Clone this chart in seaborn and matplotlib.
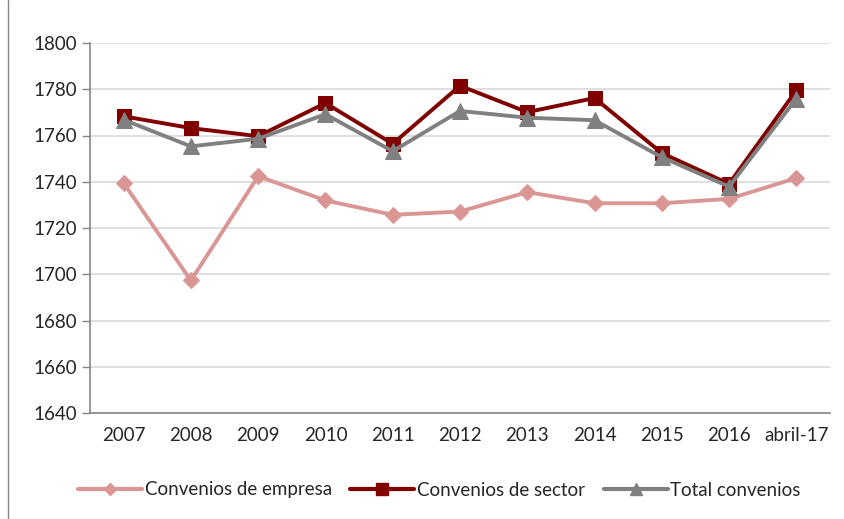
import numpy as np
import pandas as pd
import seaborn as sns
import matplotlib.pyplot as plt
from matplotlib.lines import Line2D

periods = ['2007', '2008', '2009', '2010', '2011', '2012', '2013', '2014', '2015', '2016', 'abril-17']
empresa = [1739.4, 1697.3, 1742.4, 1731.9, 1725.7, 1727.1, 1735.5, 1730.7, 1730.7, 1732.6, 1741.6]
sector = [1768.3, 1763.2, 1759.7, 1774.0, 1756.4, 1781.5, 1770.1, 1776.2, 1752.4, 1739.1, 1779.5]
total = [1766.8, 1755.3, 1758.6, 1769.2, 1753.2, 1770.6, 1767.7, 1766.6, 1750.6, 1737.9, 1776.0]

names = ['Convenios de empresa', 'Convenios de sector', 'Total convenios']
colors = ['#D99694', '#800000', '#808080']
markers = ['D', 's', '^']
msizes = [8, 10, 11]

df = pd.DataFrame({'Periodo': periods * 3,
                   'Horas': empresa + sector + total,
                   'Serie': np.repeat(names, len(periods))})

sns.set_style('white')
plt.rcParams['font.family'] = ['Lato', 'DejaVu Sans']

fig = plt.figure(figsize=(8.45, 5.19), dpi=100)
ax = fig.add_axes([90 / 845, 1 - 413 / 519, 740 / 845, 370 / 519])

x = np.arange(len(periods))
for name, c, m, ms in zip(names, colors, markers, msizes):
    part = df[df['Serie'] == name]
    sns.lineplot(x=x, y=part['Horas'].values, ax=ax, color=c, lw=2.8,
                 marker=m, markersize=ms, markeredgecolor=c, legend=False)

ax.set_xlim(-0.5, len(periods) - 0.5)
ax.set_ylim(1640, 1800)
ax.set_yticks(np.arange(1640, 1801, 20))
ax.yaxis.grid(True, color='#D9D9D9', lw=1.2)
ax.set_axisbelow(True)

ax.set_xticks(x)
ax.set_xticklabels(periods)
ax.tick_params(axis='x', length=0, pad=10, labelsize=13.5)
ax.set_xticks(np.arange(-0.5, len(periods)), minor=True)
ax.tick_params(axis='x', which='minor', length=6, color='#868686', width=1)
ax.tick_params(axis='y', length=6, color='#868686', width=1, labelsize=13.5, left=True)
ax.set_xlabel('')
ax.set_ylabel('')

for s in ['top', 'right']:
    ax.spines[s].set_visible(False)
for s in ['left', 'bottom']:
    ax.spines[s].set_color('#868686')
    ax.spines[s].set_linewidth(1.2)

handles = [Line2D([], [], color=c, lw=3, marker=m, markersize=ms - 2, markeredgecolor=c)
           for c, m, ms in zip(colors, markers, msizes)]
fig.legend(handles, names, loc='center', bbox_to_anchor=(0.52, 1 - 490 / 519),
           ncol=3, frameon=False, fontsize=13.5, handlelength=3.4,
           handletextpad=0.15, columnspacing=1.0)

fig.add_artist(Line2D([8 / 845, 8 / 845], [0, 1], color='#868686', lw=1))

fig.savefig('out.png', dpi=100)
